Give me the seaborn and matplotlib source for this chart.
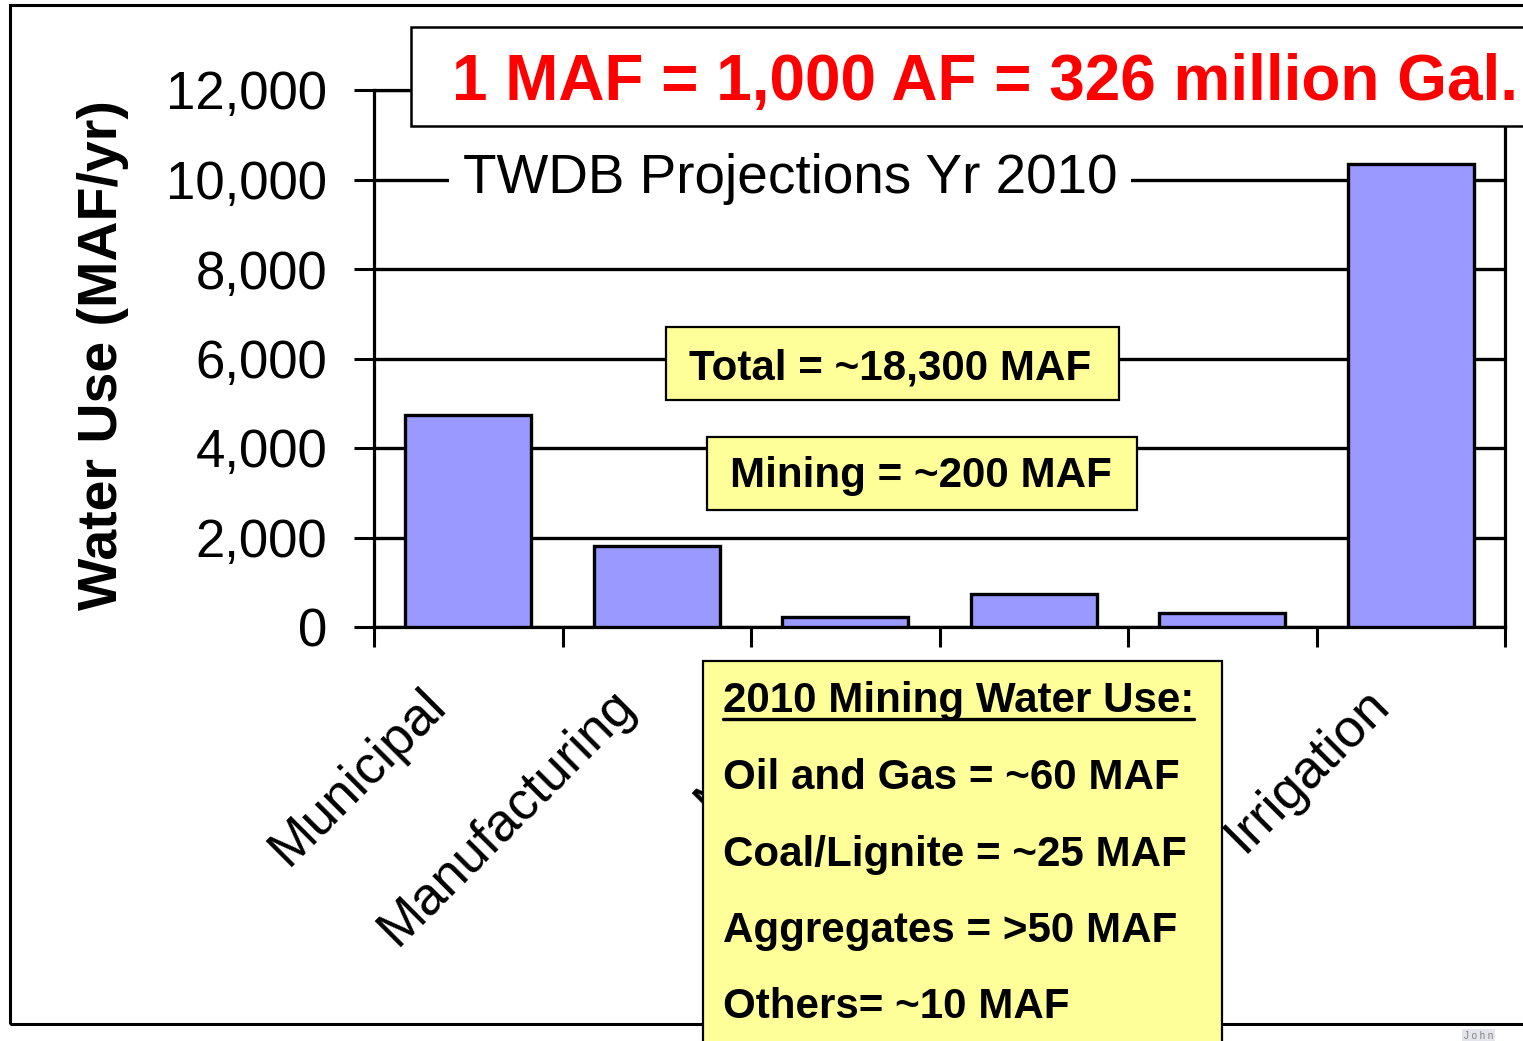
import numpy as np
import pandas as pd
import matplotlib
matplotlib.use("Agg")
import matplotlib.pyplot as plt
import matplotlib.transforms as mtransforms
from matplotlib.patches import Rectangle
from matplotlib.lines import Line2D
import seaborn as sns

# data (MAF/yr)
categories = ['Municipal', 'Manufacturing', 'Mining', 'Steam Electric', 'Livestock', 'Irrigation']
water_use = [4740, 1820, 230, 740, 310, 10350]
y_ticks = [0, 2000, 4000, 6000, 8000, 10000, 12000]
y_tick_labels = ['0', '2,000', '4,000', '6,000', '8,000', '10,000', '12,000']

conversion_note = '1 MAF = 1,000 AF = 326 million Gal.'
subtitle = 'TWDB Projections Yr 2010'
total_note = 'Total = ~18,300 MAF'
mining_note = 'Mining = ~200 MAF'
mining_title = '2010 Mining Water Use:'
mining_lines = ['Oil and Gas = ~60 MAF', 'Coal/Lignite = ~25 MAF',
                'Aggregates = >50 MAF', 'Others= ~10 MAF']

W, H = 1523, 1041


def fx(x):
    return x / W


def fy(y):
    return 1 - y / H


sns.set_style('white')
plt.rcParams['font.family'] = ['Liberation Sans', 'DejaVu Sans']
plt.rcParams['text.color'] = 'black'

fig = plt.figure(figsize=(W / 100, H / 100), dpi=100)
ax = fig.add_axes([fx(374), fy(627), fx(1505) - fx(374), fy(90) - fy(627)])

df = pd.DataFrame({'Category': categories, 'Use': water_use})
sns.barplot(data=df, x='Category', y='Use', color='#9999FF', saturation=1,
            edgecolor='black', linewidth=2.4, width=0.67, ax=ax, zorder=3)

ax.set_xlim(-0.5, 5.5)
ax.set_ylim(0, 12000)
ax.set_axisbelow(True)
ax.yaxis.grid(True, color='black', lw=2.4)
ax.xaxis.grid(False)
ax.set_xlabel('')
ax.set_ylabel('')

for side in ['left', 'right', 'top', 'bottom']:
    ax.spines[side].set_visible(True)
    ax.spines[side].set_color('black')
    ax.spines[side].set_linewidth(2.3)

ax.set_yticks(y_ticks)
ax.set_yticklabels(y_tick_labels)
ax.tick_params(axis='y', left=True, direction='out', length=14.4, width=2.2,
               pad=19.4, labelsize=38, colors='black')

# category boundary ticks
ax.set_xticks(np.arange(-0.5, 6, 1), minor=True)
ax.tick_params(axis='x', which='minor', bottom=True, direction='out',
               length=14.4, width=2.2, colors='black')
ax.tick_params(axis='x', which='major', bottom=False, length=0, pad=57.6,
               labelsize=38.5, labelcolor='black')
shift = mtransforms.ScaledTranslation(-0.20, 0, fig.dpi_scale_trans)
for lbl in ax.get_xticklabels():
    lbl.set_rotation(45)
    lbl.set_ha('right')
    lbl.set_va('baseline')
    lbl.set_rotation_mode('anchor')
    lbl.set_transform(lbl.get_transform() + shift)

fig.text(fx(103), fy(355), 'Water Use (MAF/yr)', rotation=90, ha='center',
         va='center', fontsize=40, fontweight='bold', color='black')

# outer frame
fig.add_artist(Rectangle((fx(10), fy(1024)), fx(1580) - fx(10), fy(5) - fy(1024),
                         transform=fig.transFigure, facecolor='none',
                         edgecolor='black', lw=2.2, zorder=5))

# conversion box
fig.add_artist(Rectangle((fx(411), fy(126)), fx(1580) - fx(411), fy(27) - fy(126),
                         transform=fig.transFigure, facecolor='white',
                         edgecolor='black', lw=1.8, zorder=10))
fig.text(fx(452), fy(100), conversion_note, color='#FF0000', fontsize=46.0,
         fontweight='bold', ha='left', va='baseline', zorder=11)

fig.text(fx(463), fy(193), subtitle, fontsize=39.5, color='black', ha='left',
         va='baseline', bbox=dict(facecolor='white', edgecolor='none', pad=10),
         zorder=11)

yellow = '#FFFF99'
fig.add_artist(Rectangle((fx(666), fy(400)), fx(1119) - fx(666), fy(327) - fy(400),
                         transform=fig.transFigure, facecolor=yellow,
                         edgecolor='black', lw=1.6, zorder=10))
fig.text(fx(689), fy(379), total_note, fontsize=30.3, fontweight='bold',
         color='black', ha='left', va='baseline', zorder=11)

fig.add_artist(Rectangle((fx(707), fy(510)), fx(1137) - fx(707), fy(437) - fy(510),
                         transform=fig.transFigure, facecolor=yellow,
                         edgecolor='black', lw=1.6, zorder=10))
fig.text(fx(730), fy(487), mining_note, fontsize=30.3, fontweight='bold',
         color='black', ha='left', va='baseline', zorder=11)

fig.add_artist(Rectangle((fx(703), fy(1080)), fx(1222) - fx(703), fy(661) - fy(1080),
                         transform=fig.transFigure, facecolor=yellow,
                         edgecolor='black', lw=1.6, zorder=10))
header = fig.text(fx(723), fy(712), mining_title, fontsize=30.3, fontweight='bold',
                  color='black', ha='left', va='baseline', zorder=11)
baselines = [789, 866, 942, 1018]
for line, yb in zip(mining_lines, baselines):
    fig.text(fx(723), fy(yb), line, fontsize=30.3, fontweight='bold',
             color='black', ha='left', va='baseline', zorder=11)

fig.canvas.draw()
bb = header.get_window_extent().transformed(fig.transFigure.inverted())
fig.add_artist(Line2D([bb.x0, bb.x1], [fy(719), fy(719)], transform=fig.transFigure,
                      color='black', lw=2.4, zorder=11))

fig.text(fx(1464), fy(1039), 'J o h n', fontsize=7, color='#808080', ha='left',
         va='baseline', bbox=dict(facecolor='#E4E4EC', edgecolor='none', pad=1.5),
         zorder=11)

fig.savefig('out.png', dpi=100)
